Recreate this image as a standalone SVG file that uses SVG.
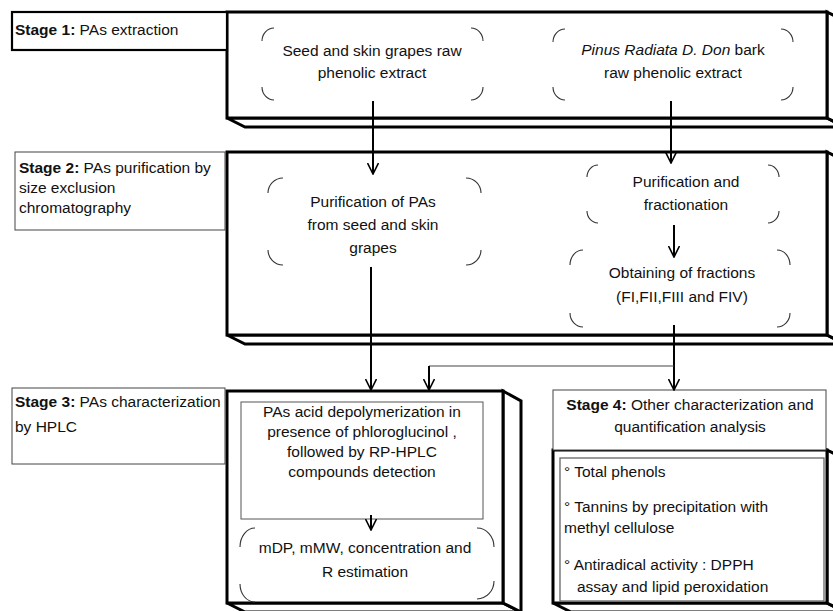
<svg xmlns="http://www.w3.org/2000/svg" width="833" height="611" viewBox="0 0 833 611">
<style>
text{font-family:"Liberation Sans",Arial,sans-serif;font-size:15.5px;fill:#111}
.c{text-anchor:middle}
.b{font-weight:bold}
.i{font-style:italic}
.cube{fill:#fff;stroke:#000;stroke-width:3;stroke-linejoin:miter}
.lab{fill:#fff;stroke:#444;stroke-width:1}
.inner{fill:#fff;stroke:#555;stroke-width:1}
.br{fill:none;stroke:#333;stroke-width:1.1}
.ar{fill:none;stroke:#000;stroke-width:2}
.thin{fill:none;stroke:#444;stroke-width:1}
</style>
<defs>
<marker id="ah" viewBox="0 0 12 12" refX="11" refY="6" markerWidth="12" markerHeight="12" markerUnits="userSpaceOnUse" orient="auto">
<path d="M0,0.5 L11,6 L0,11.5" fill="none" stroke="#000" stroke-width="1.6"/>
</marker>
</defs>

<!-- Stage 1 -->
<g id="stage1-box">
<polygon class="cube" points="227,118 245,127 845,127 827,118"/>
<polygon class="cube" points="827,12 845,21 845,127 827,118"/>
<rect class="cube" x="227" y="12" width="600" height="106"/>
</g>
<g id="stage1-label">
<rect x="12" y="12" width="215" height="38" fill="#fff" stroke="#000" stroke-width="2.2"/>
<text x="15" y="35"><tspan class="b">Stage 1:</tspan> PAs extraction</text>
</g>
<g id="node-grapes-extract">
<path class="br" d="M274,28 A12,13 0 0 0 262,41 M262,87 A12,13 0 0 0 274,100 M471,28 A12,13 0 0 1 483,41 M483,87 A12,13 0 0 1 471,100"/>
<text class="c" x="372" y="56">Seed and skin grapes raw</text>
<text class="c" x="372" y="78">phenolic extract</text>
</g>
<g id="node-pinus-extract">
<path class="br" d="M565,29 A12,13 0 0 0 553,42 M553,87 A12,13 0 0 0 565,100 M781,29 A12,13 0 0 1 793,42 M793,87 A12,13 0 0 1 781,100"/>
<text class="c" x="673" y="55"><tspan class="i">Pinus Radiata D. Don</tspan> bark</text>
<text class="c" x="673" y="78">raw phenolic extract</text>
</g>

<!-- Stage 2 -->
<g id="stage2-box">
<polygon class="cube" points="227,335 245,344 845,344 827,335"/>
<polygon class="cube" points="827,152 845,161 845,344 827,335"/>
<rect class="cube" x="227" y="152" width="600" height="183"/>
</g>
<g id="stage2-label">
<rect class="lab" x="15" y="152" width="210" height="78"/>
<text x="19" y="173"><tspan class="b">Stage 2:</tspan> PAs purification by</text>
<text x="19" y="193">size exclusion</text>
<text x="19" y="213">chromatography</text>
</g>
<g id="node-grapes-purification">
<path class="br" d="M283,178 A15,15 0 0 0 268,193 M268,250 A15,15 0 0 0 283,265 M466,178 A15,15 0 0 1 481,193 M481,250 A15,15 0 0 1 466,265"/>
<text class="c" x="373" y="207">Purification of PAs</text>
<text class="c" x="373" y="230">from seed and skin</text>
<text class="c" x="373" y="253">grapes</text>
</g>
<g id="node-pinus-purification">
<path class="br" d="M598,165 A11,12 0 0 0 587,177 M587,211 A11,12 0 0 0 598,223 M768,165 A11,12 0 0 1 779,177 M779,211 A11,12 0 0 1 768,223"/>
<text class="c" x="686" y="187">Purification and</text>
<text class="c" x="686" y="210">fractionation</text>
</g>
<g id="node-fractions">
<path class="br" d="M583,250 A13,15 0 0 0 570,265 M570,313 A13,14 0 0 0 583,327 M777,250 A13,15 0 0 1 790,265 M790,313 A13,14 0 0 1 777,327"/>
<text class="c" x="682" y="278">Obtaining of fractions</text>
<text class="c" x="682" y="302">(FI,FII,FIII and FIV)</text>
</g>

<!-- Stage 3 -->
<g id="stage3-box">
<polygon class="cube" points="227,603 245,612 521,612 503,603"/>
<polygon class="cube" points="503,391 521,401 521,612 503,603"/>
<rect class="cube" x="227" y="391" width="276" height="212"/>
</g>
<g id="stage3-label">
<rect class="lab" x="12" y="388" width="213" height="76"/>
<text x="15" y="407"><tspan class="b">Stage 3:</tspan> PAs characterization</text>
<text x="15" y="432">by HPLC</text>
</g>
<g id="node-depolymerization">
<rect class="inner" x="241" y="402" width="242" height="117"/>
<text class="c" x="362" y="417">PAs acid depolymerization in</text>
<text class="c" x="362" y="437">presence of phloroglucinol ,</text>
<text class="c" x="362" y="457">followed by RP-HPLC</text>
<text class="c" x="362" y="477">compounds detection</text>
</g>
<g id="node-estimation">
<path class="br" d="M255,528 A15,19 0 0 0 240,547 M240,584 A15,18 0 0 0 255,602 M477,528 A17,19 0 0 1 494,547 M494,581 A17,18 0 0 1 477,599"/>
<text class="c" x="365" y="553">mDP, mMW, concentration and</text>
<text class="c" x="365" y="577">R estimation</text>
</g>

<!-- Stage 4 -->
<g id="stage4-box">
<polygon class="cube" points="553,603 571,612 845,612 827,603"/>
<polygon class="cube" points="827,450 845,459 845,612 827,603"/>
<rect class="cube" x="553" y="450" width="274" height="153"/>
</g>
<g id="stage4-label">
<rect class="lab" x="553" y="390" width="273" height="60"/>
<text class="c" x="690" y="410"><tspan class="b">Stage 4:</tspan> Other characterization and</text>
<text class="c" x="690" y="432">quantification analysis</text>
</g>
<g id="node-analyses">
<rect x="560" y="458" width="264" height="143" fill="#fff" stroke="#666" stroke-width="1.3"/>
<text x="564" y="477">°  Total phenols</text>
<text x="564" y="512">°  Tannins by precipitation with</text>
<text x="564" y="533">methyl cellulose</text>
<text x="564" y="570">°  Antiradical activity : DPPH</text>
<text x="577" y="592">assay and lipid peroxidation</text>
</g>

<!-- Connectors -->
<g id="connectors">
<line class="ar" x1="373" y1="101" x2="373" y2="174" marker-end="url(#ah)"/>
<line class="ar" x1="671" y1="101" x2="671" y2="163" marker-end="url(#ah)"/>
<line class="ar" x1="674" y1="225" x2="674" y2="257" marker-end="url(#ah)"/>
<line class="ar" x1="371" y1="267" x2="371" y2="390" marker-end="url(#ah)"/>
<line class="ar" x1="674" y1="325" x2="674" y2="390" marker-end="url(#ah)"/>
<polyline class="thin" points="674,366 429,366 429,372"/>
<line class="ar" x1="429" y1="366" x2="429" y2="390" marker-end="url(#ah)"/>
<line class="ar" x1="371" y1="515" x2="371" y2="530" marker-end="url(#ah)"/>
</g>
</svg>
